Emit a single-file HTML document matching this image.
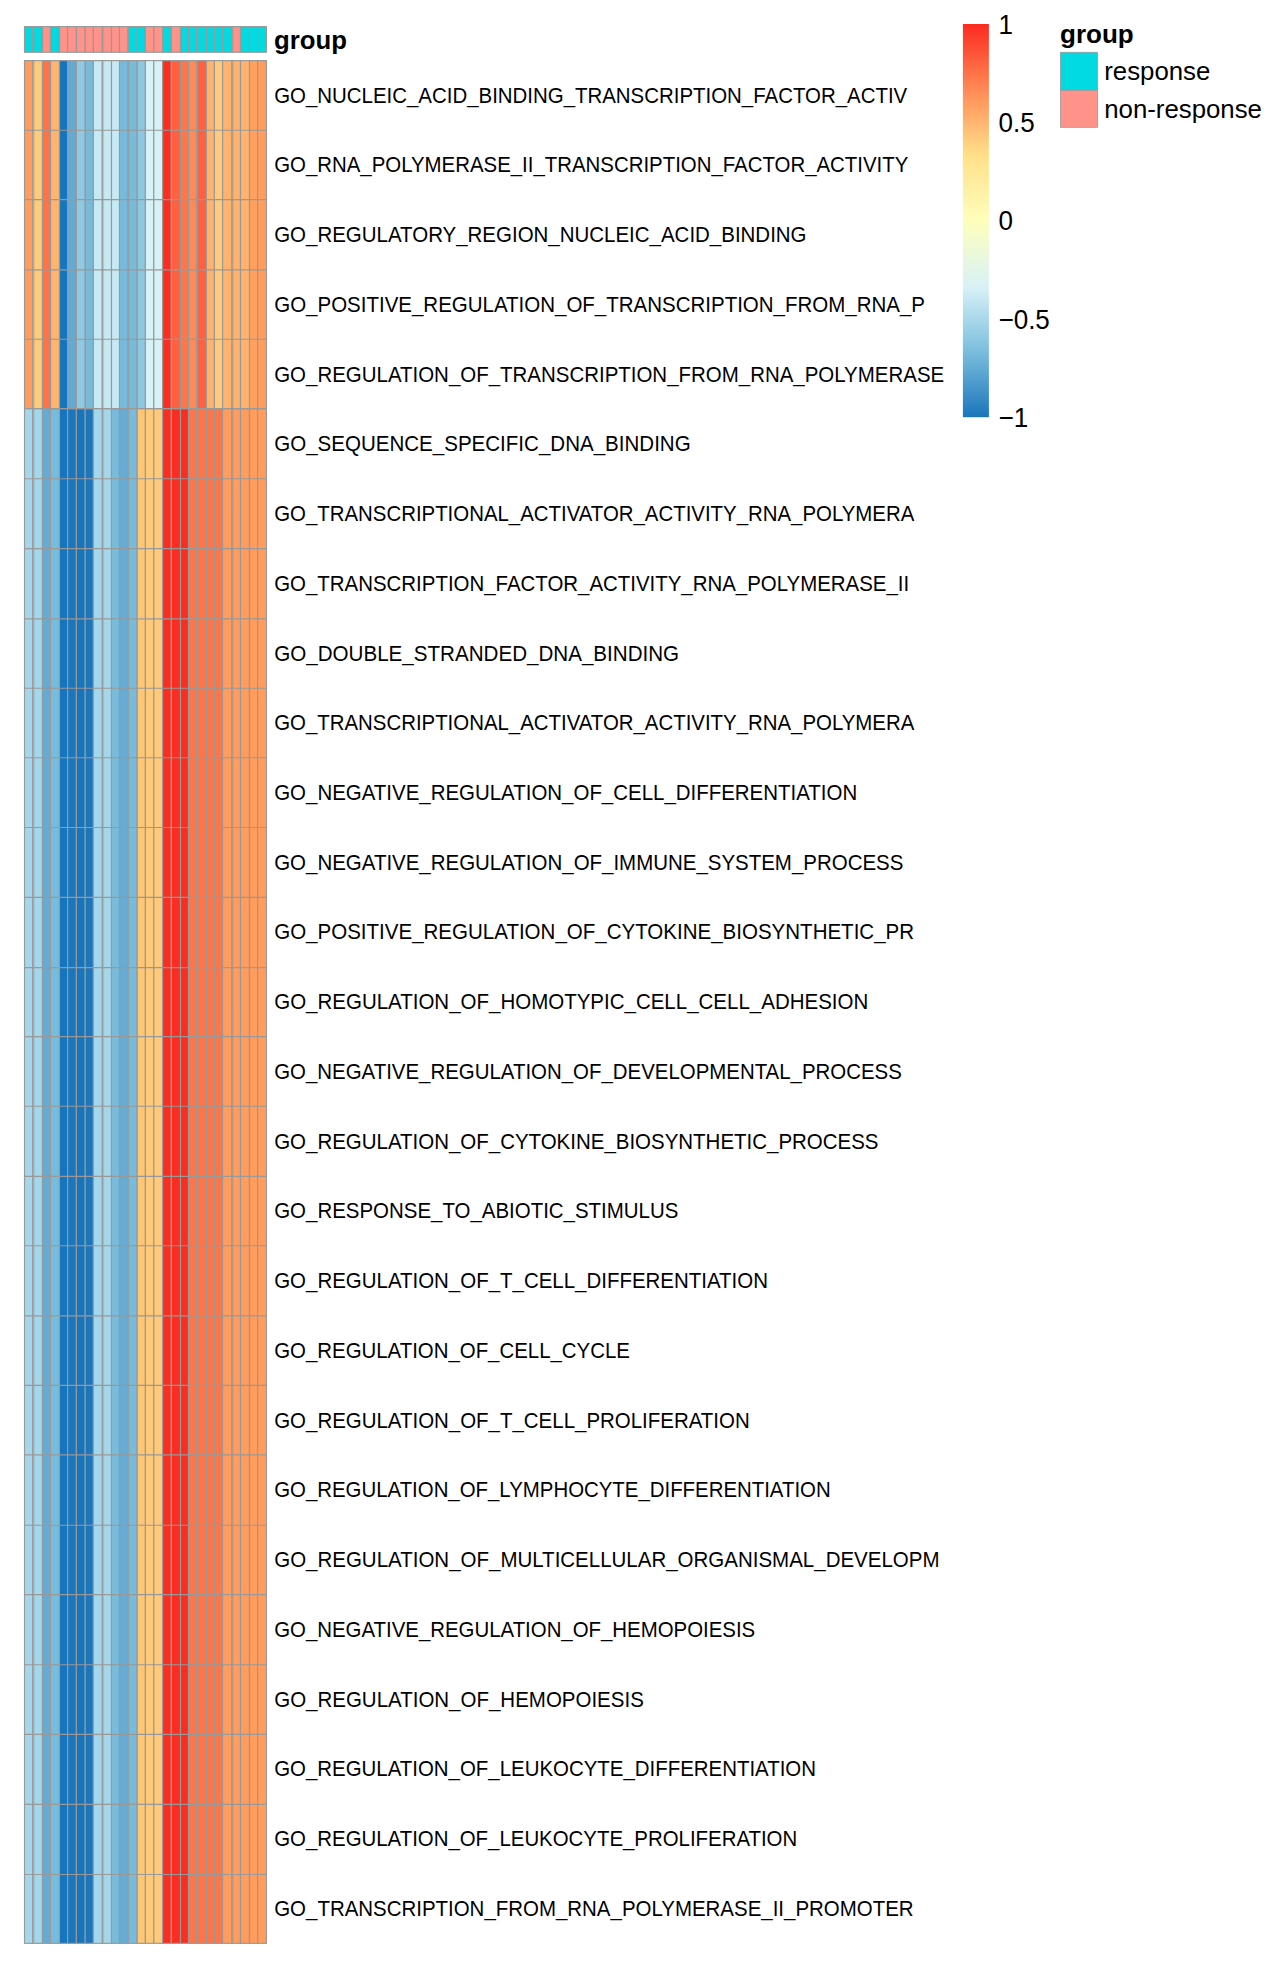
<!DOCTYPE html>
<html><head><meta charset="utf-8"><title>heatmap</title>
<style>
html,body{margin:0;padding:0;background:#fff;}
svg{display:block;}
text{font-family:"Liberation Sans",sans-serif;fill:#000;}
.lab{font-size:20.8px;}
.b{font-weight:bold;}
</style></head><body>
<svg width="1285" height="1971" viewBox="0 0 1285 1971">
<rect x="0" y="0" width="1285" height="1971" fill="#fff"/>
<defs><linearGradient id="lg" x1="0" y1="0" x2="0" y2="1">
<stop offset="0" stop-color="#FB2A1F"/>
<stop offset="0.1667" stop-color="#FF8A56"/>
<stop offset="0.3333" stop-color="#FFE08A"/>
<stop offset="0.5" stop-color="#FEFEBB"/>
<stop offset="0.6667" stop-color="#D9F2F7"/>
<stop offset="0.8333" stop-color="#7ABEDD"/>
<stop offset="1" stop-color="#1B75BB"/>
</linearGradient>
<linearGradient id="fz" x1="0" y1="0" x2="1" y2="0"><stop offset="0" stop-color="#999" stop-opacity="0.75"/><stop offset="1" stop-color="#999" stop-opacity="0"/></linearGradient></defs>

<g stroke="#999999" stroke-width="1.15">
<rect x="24.50" y="26.6" width="8.30" height="25.65" fill="#00DAE0"/>
<rect x="32.80" y="26.6" width="9.70" height="25.65" fill="#00DAE0"/>
<rect x="42.50" y="26.6" width="8.00" height="25.65" fill="#FF9289"/>
<rect x="50.50" y="26.6" width="9.00" height="25.65" fill="#00DAE0"/>
<rect x="59.50" y="26.6" width="8.10" height="25.65" fill="#FF9289"/>
<rect x="67.60" y="26.6" width="8.80" height="25.65" fill="#FF9289"/>
<rect x="76.40" y="26.6" width="8.80" height="25.65" fill="#FF9289"/>
<rect x="85.20" y="26.6" width="8.20" height="25.65" fill="#FF9289"/>
<rect x="93.40" y="26.6" width="8.90" height="25.65" fill="#FF9289"/>
<rect x="102.30" y="26.6" width="9.20" height="25.65" fill="#FF9289"/>
<rect x="111.50" y="26.6" width="8.00" height="25.65" fill="#FF9289"/>
<rect x="119.50" y="26.6" width="8.60" height="25.65" fill="#FF9289"/>
<rect x="128.10" y="26.6" width="9.10" height="25.65" fill="#00DAE0"/>
<rect x="137.20" y="26.6" width="8.20" height="25.65" fill="#00DAE0"/>
<rect x="145.40" y="26.6" width="8.40" height="25.65" fill="#FF9289"/>
<rect x="153.80" y="26.6" width="8.80" height="25.65" fill="#FF9289"/>
<rect x="162.60" y="26.6" width="8.70" height="25.65" fill="#00DAE0"/>
<rect x="171.30" y="26.6" width="9.20" height="25.65" fill="#FF9289"/>
<rect x="180.50" y="26.6" width="8.00" height="25.65" fill="#00DAE0"/>
<rect x="188.50" y="26.6" width="8.30" height="25.65" fill="#00DAE0"/>
<rect x="196.80" y="26.6" width="9.60" height="25.65" fill="#00DAE0"/>
<rect x="206.40" y="26.6" width="8.00" height="25.65" fill="#00DAE0"/>
<rect x="214.40" y="26.6" width="8.20" height="25.65" fill="#00DAE0"/>
<rect x="222.60" y="26.6" width="9.40" height="25.65" fill="#00DAE0"/>
<rect x="232.00" y="26.6" width="8.50" height="25.65" fill="#FF9289"/>
<rect x="240.50" y="26.6" width="9.00" height="25.65" fill="#00DAE0"/>
<rect x="249.50" y="26.6" width="8.10" height="25.65" fill="#00DAE0"/>
<rect x="257.60" y="26.6" width="8.80" height="25.65" fill="#00DAE0"/>
<rect x="24.50" y="60.6" width="8.30" height="348.00" fill="#FF9C5E"/>
<rect x="24.50" y="408.60" width="8.30" height="1534.75" fill="#A4D7EB"/>
<rect x="32.80" y="60.6" width="9.70" height="348.00" fill="#FFCB7B"/>
<rect x="32.80" y="408.60" width="9.70" height="1534.75" fill="#A4D7EB"/>
<rect x="42.50" y="60.6" width="8.00" height="348.00" fill="#FF7346"/>
<rect x="42.50" y="408.60" width="8.00" height="1534.75" fill="#63ACD6"/>
<rect x="50.50" y="60.6" width="9.00" height="348.00" fill="#FFB36D"/>
<rect x="50.50" y="408.60" width="9.00" height="1534.75" fill="#78BCDD"/>
<rect x="59.50" y="60.6" width="8.10" height="348.00" fill="#1575BD"/>
<rect x="59.50" y="408.60" width="8.10" height="1534.75" fill="#1575BD"/>
<rect x="67.60" y="60.6" width="8.80" height="348.00" fill="#66A9D3"/>
<rect x="67.60" y="408.60" width="8.80" height="1534.75" fill="#1B77BD"/>
<rect x="76.40" y="60.6" width="8.80" height="348.00" fill="#8FCAE2"/>
<rect x="76.40" y="408.60" width="8.80" height="1534.75" fill="#1575BD"/>
<rect x="85.20" y="60.6" width="8.20" height="348.00" fill="#77BBDC"/>
<rect x="85.20" y="408.60" width="8.20" height="1534.75" fill="#1B77BD"/>
<rect x="93.40" y="60.6" width="8.90" height="348.00" fill="#C6EAF3"/>
<rect x="93.40" y="408.60" width="8.90" height="1534.75" fill="#A4D7EB"/>
<rect x="102.30" y="60.6" width="9.20" height="348.00" fill="#C6EAF3"/>
<rect x="102.30" y="408.60" width="9.20" height="1534.75" fill="#A4D7EB"/>
<rect x="111.50" y="60.6" width="8.00" height="348.00" fill="#C6EAF3"/>
<rect x="111.50" y="408.60" width="8.00" height="1534.75" fill="#78BCDD"/>
<rect x="119.50" y="60.6" width="8.60" height="348.00" fill="#77BBDC"/>
<rect x="119.50" y="408.60" width="8.60" height="1534.75" fill="#66ACD5"/>
<rect x="128.10" y="60.6" width="9.10" height="348.00" fill="#78BBDB"/>
<rect x="128.10" y="408.60" width="9.10" height="1534.75" fill="#78BCDD"/>
<rect x="137.20" y="60.6" width="8.20" height="348.00" fill="#8CC8E0"/>
<rect x="137.20" y="408.60" width="8.20" height="1534.75" fill="#FFC676"/>
<rect x="145.40" y="60.6" width="8.40" height="348.00" fill="#D7F2F7"/>
<rect x="145.40" y="408.60" width="8.40" height="1534.75" fill="#FFC97A"/>
<rect x="153.80" y="60.6" width="8.80" height="348.00" fill="#D7F2F7"/>
<rect x="153.80" y="408.60" width="8.80" height="1534.75" fill="#FFC97A"/>
<rect x="162.60" y="60.6" width="8.70" height="348.00" fill="#FB2D20"/>
<rect x="162.60" y="408.60" width="8.70" height="1534.75" fill="#FB2D20"/>
<rect x="171.30" y="60.6" width="9.20" height="348.00" fill="#FF6040"/>
<rect x="171.30" y="408.60" width="9.20" height="1534.75" fill="#FB2D20"/>
<rect x="180.50" y="60.6" width="8.00" height="348.00" fill="#FF7748"/>
<rect x="180.50" y="408.60" width="8.00" height="1534.75" fill="#FB2D20"/>
<rect x="188.50" y="60.6" width="8.30" height="348.00" fill="#FF8A55"/>
<rect x="188.50" y="408.60" width="8.30" height="1534.75" fill="#FF7547"/>
<rect x="196.80" y="60.6" width="9.60" height="348.00" fill="#FF6040"/>
<rect x="196.80" y="408.60" width="9.60" height="1534.75" fill="#FF7547"/>
<rect x="206.40" y="60.6" width="8.00" height="348.00" fill="#FFB36D"/>
<rect x="206.40" y="408.60" width="8.00" height="1534.75" fill="#FF7547"/>
<rect x="214.40" y="60.6" width="8.20" height="348.00" fill="#FFCB7B"/>
<rect x="214.40" y="408.60" width="8.20" height="1534.75" fill="#FF7547"/>
<rect x="222.60" y="60.6" width="9.40" height="348.00" fill="#FFB36D"/>
<rect x="222.60" y="408.60" width="9.40" height="1534.75" fill="#FF9C5E"/>
<rect x="232.00" y="60.6" width="8.50" height="348.00" fill="#FFB36D"/>
<rect x="232.00" y="408.60" width="8.50" height="1534.75" fill="#FF9C5E"/>
<rect x="240.50" y="60.6" width="9.00" height="348.00" fill="#FFB36D"/>
<rect x="240.50" y="408.60" width="9.00" height="1534.75" fill="#FF9C5E"/>
<rect x="249.50" y="60.6" width="8.10" height="348.00" fill="#FFA061"/>
<rect x="249.50" y="408.60" width="8.10" height="1534.75" fill="#FF9C5E"/>
<rect x="257.60" y="60.6" width="8.80" height="348.00" fill="#FF9C5E"/>
<rect x="257.60" y="408.60" width="8.80" height="1534.75" fill="#FF9C5E"/>
<line x1="24.5" y1="130.20" x2="266.4" y2="130.20"/>
<line x1="24.5" y1="199.60" x2="266.4" y2="199.60"/>
<line x1="24.5" y1="269.80" x2="266.4" y2="269.80"/>
<line x1="24.5" y1="339.20" x2="266.4" y2="339.20"/>
<line x1="24.5" y1="408.60" x2="266.4" y2="408.60"/>
<line x1="24.5" y1="478.70" x2="266.4" y2="478.70"/>
<line x1="24.5" y1="548.60" x2="266.4" y2="548.60"/>
<line x1="24.5" y1="618.80" x2="266.4" y2="618.80"/>
<line x1="24.5" y1="688.20" x2="266.4" y2="688.20"/>
<line x1="24.5" y1="757.75" x2="266.4" y2="757.75"/>
<line x1="24.5" y1="827.50" x2="266.4" y2="827.50"/>
<line x1="24.5" y1="897.30" x2="266.4" y2="897.30"/>
<line x1="24.5" y1="967.60" x2="266.4" y2="967.60"/>
<line x1="24.5" y1="1036.60" x2="266.4" y2="1036.60"/>
<line x1="24.5" y1="1106.25" x2="266.4" y2="1106.25"/>
<line x1="24.5" y1="1176.30" x2="266.4" y2="1176.30"/>
<line x1="24.5" y1="1245.70" x2="266.4" y2="1245.70"/>
<line x1="24.5" y1="1315.90" x2="266.4" y2="1315.90"/>
<line x1="24.5" y1="1385.30" x2="266.4" y2="1385.30"/>
<line x1="24.5" y1="1454.85" x2="266.4" y2="1454.85"/>
<line x1="24.5" y1="1525.20" x2="266.4" y2="1525.20"/>
<line x1="24.5" y1="1594.60" x2="266.4" y2="1594.60"/>
<line x1="24.5" y1="1664.70" x2="266.4" y2="1664.70"/>
<line x1="24.5" y1="1734.30" x2="266.4" y2="1734.30"/>
<line x1="24.5" y1="1804.30" x2="266.4" y2="1804.30"/>
<line x1="24.5" y1="1874.50" x2="266.4" y2="1874.50"/>
</g>
<rect x="33.20" y="60.6" width="2.0" height="1882.75" fill="url(#fz)"/>
<rect x="33.20" y="26.6" width="2.0" height="25.65" fill="url(#fz)"/>
<rect x="102.70" y="60.6" width="2.0" height="1882.75" fill="url(#fz)"/>
<rect x="102.70" y="26.6" width="2.0" height="25.65" fill="url(#fz)"/>
<rect x="128.50" y="60.6" width="2.0" height="1882.75" fill="url(#fz)"/>
<rect x="128.50" y="26.6" width="2.0" height="25.65" fill="url(#fz)"/>
<rect x="197.20" y="60.6" width="2.0" height="1882.75" fill="url(#fz)"/>
<rect x="197.20" y="26.6" width="2.0" height="25.65" fill="url(#fz)"/>
<rect x="232.40" y="60.6" width="2.0" height="1882.75" fill="url(#fz)"/>
<rect x="232.40" y="26.6" width="2.0" height="25.65" fill="url(#fz)"/>
<text class="lab" transform="translate(274.2,102.65) scale(0.9827,1.04)">GO_NUCLEIC_ACID_BINDING_TRANSCRIPTION_FACTOR_ACTIV</text>
<text class="lab" transform="translate(274.2,172.38) scale(0.9817,1.04)">GO_RNA_POLYMERASE_II_TRANSCRIPTION_FACTOR_ACTIVITY</text>
<text class="lab" transform="translate(274.2,242.12) scale(0.9851,1.04)">GO_REGULATORY_REGION_NUCLEIC_ACID_BINDING</text>
<text class="lab" transform="translate(274.2,311.86) scale(0.9854,1.04)">GO_POSITIVE_REGULATION_OF_TRANSCRIPTION_FROM_RNA_P</text>
<text class="lab" transform="translate(274.2,381.59) scale(0.9842,1.04)">GO_REGULATION_OF_TRANSCRIPTION_FROM_RNA_POLYMERASE</text>
<text class="lab" transform="translate(274.2,451.33) scale(0.9881,1.04)">GO_SEQUENCE_SPECIFIC_DNA_BINDING</text>
<text class="lab" transform="translate(274.2,521.06) scale(0.9815,1.04)">GO_TRANSCRIPTIONAL_ACTIVATOR_ACTIVITY_RNA_POLYMERA</text>
<text class="lab" transform="translate(274.2,590.79) scale(0.983,1.04)">GO_TRANSCRIPTION_FACTOR_ACTIVITY_RNA_POLYMERASE_II</text>
<text class="lab" transform="translate(274.2,660.53) scale(0.9901,1.04)">GO_DOUBLE_STRANDED_DNA_BINDING</text>
<text class="lab" transform="translate(274.2,730.26) scale(0.9815,1.04)">GO_TRANSCRIPTIONAL_ACTIVATOR_ACTIVITY_RNA_POLYMERA</text>
<text class="lab" transform="translate(274.2,800.00) scale(0.9835,1.04)">GO_NEGATIVE_REGULATION_OF_CELL_DIFFERENTIATION</text>
<text class="lab" transform="translate(274.2,869.74) scale(0.9845,1.04)">GO_NEGATIVE_REGULATION_OF_IMMUNE_SYSTEM_PROCESS</text>
<text class="lab" transform="translate(274.2,939.47) scale(0.9864,1.04)">GO_POSITIVE_REGULATION_OF_CYTOKINE_BIOSYNTHETIC_PR</text>
<text class="lab" transform="translate(274.2,1009.20) scale(0.9858,1.04)">GO_REGULATION_OF_HOMOTYPIC_CELL_CELL_ADHESION</text>
<text class="lab" transform="translate(274.2,1078.94) scale(0.9823,1.04)">GO_NEGATIVE_REGULATION_OF_DEVELOPMENTAL_PROCESS</text>
<text class="lab" transform="translate(274.2,1148.68) scale(0.9849,1.04)">GO_REGULATION_OF_CYTOKINE_BIOSYNTHETIC_PROCESS</text>
<text class="lab" transform="translate(274.2,1218.41) scale(0.9833,1.04)">GO_RESPONSE_TO_ABIOTIC_STIMULUS</text>
<text class="lab" transform="translate(274.2,1288.14) scale(0.984,1.04)">GO_REGULATION_OF_T_CELL_DIFFERENTIATION</text>
<text class="lab" transform="translate(274.2,1357.88) scale(0.982,1.04)">GO_REGULATION_OF_CELL_CYCLE</text>
<text class="lab" transform="translate(274.2,1427.62) scale(0.9836,1.04)">GO_REGULATION_OF_T_CELL_PROLIFERATION</text>
<text class="lab" transform="translate(274.2,1497.35) scale(0.9813,1.04)">GO_REGULATION_OF_LYMPHOCYTE_DIFFERENTIATION</text>
<text class="lab" transform="translate(274.2,1567.09) scale(0.9855,1.04)">GO_REGULATION_OF_MULTICELLULAR_ORGANISMAL_DEVELOPM</text>
<text class="lab" transform="translate(274.2,1636.82) scale(0.9815,1.04)">GO_NEGATIVE_REGULATION_OF_HEMOPOIESIS</text>
<text class="lab" transform="translate(274.2,1706.56) scale(0.9853,1.04)">GO_REGULATION_OF_HEMOPOIESIS</text>
<text class="lab" transform="translate(274.2,1776.29) scale(0.9826,1.04)">GO_REGULATION_OF_LEUKOCYTE_DIFFERENTIATION</text>
<text class="lab" transform="translate(274.2,1846.03) scale(0.9818,1.04)">GO_REGULATION_OF_LEUKOCYTE_PROLIFERATION</text>
<text class="lab" transform="translate(274.2,1915.76) scale(0.9833,1.04)">GO_TRANSCRIPTION_FROM_RNA_POLYMERASE_II_PROMOTER</text>
<text class="b" transform="translate(274.1,49.3) scale(0.99,0.96)" font-size="26">group</text>
<rect x="962.9" y="24" width="26" height="393.2" fill="url(#lg)"/>
<text transform="translate(998.5,33.95) scale(1,1.06)" font-size="26">1</text>
<text transform="translate(998.5,132.15) scale(1,1.06)" font-size="26">0.5</text>
<text transform="translate(998.5,230.35) scale(1,1.06)" font-size="26">0</text>
<text transform="translate(998.5,328.55) scale(1,1.06)" font-size="26">−0.5</text>
<text transform="translate(998.5,426.75) scale(1,1.06)" font-size="26">−1</text>
<text class="b" x="1060.0" y="43.1" font-size="26">group</text>
<g stroke="#999999" stroke-width="0.8"><rect x="1060.4" y="52.3" width="37.1" height="38" fill="#00DAE0"/><rect x="1060.4" y="90.3" width="37.1" height="37" fill="#FF9289"/></g>
<text transform="translate(1104.2,80.4) scale(0.993,1)" font-size="26">response</text>
<text transform="translate(1104.2,117.6) scale(0.993,1)" font-size="26">non-response</text>
</svg></body></html>
